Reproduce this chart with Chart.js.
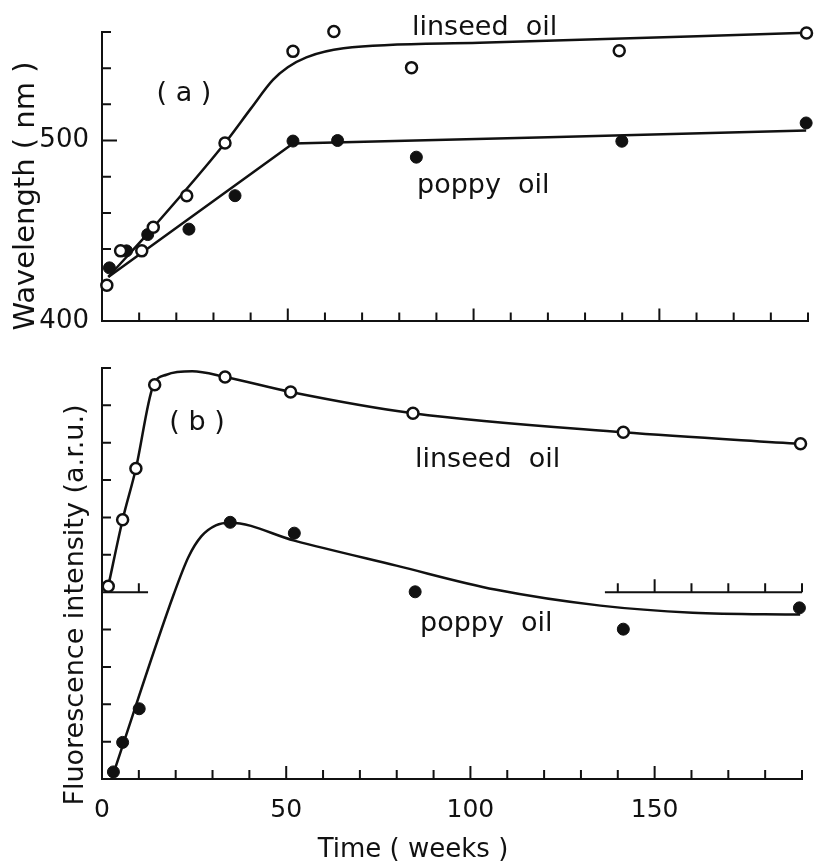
<!DOCTYPE html>
<html>
<head>
<meta charset="utf-8">
<script src="https://cdn.jsdelivr.net/npm/chart.js@4.4.1/dist/chart.umd.min.js"></script>
<style>
  html, body { margin: 0; padding: 0; background: #fff; }
  #wrap { position: relative; width: 818px; height: 868px; }
  .panel { position: absolute; left: 0; width: 818px; }
</style>
</head>
<body>
<div id="wrap">
  <div class="panel" style="top:0;height:350px"><canvas id="chart-a"></canvas></div>
  <div class="panel" style="top:350px;height:518px"><canvas id="chart-b"></canvas></div>
</div>
<script>
// Panel (a): wavelength vs time

const linseedWeeksA = [1.3, 5.0, 10.7, 13.8, 22.8, 33.1, 51.4, 62.4, 83.3, 139.2, 189.6];
const linseedWaveA = [420, 439, 439, 452, 469.5, 498.6, 549.3, 560.3, 540.3, 549.6, 559.4];
const poppyWeeksA = [2.0, 6.6, 12.3, 23.4, 35.8, 51.4, 63.4, 84.6, 139.9, 189.5];
const poppyWaveA = [429.6, 439, 448, 451, 469.5, 499.7, 500, 490.8, 499.6, 509.7];

// fitted curves as drawn in the figure
const linseedFitWeeksA = [1.7, 13.8, 33.1, 40, 46, 50, 55, 65, 101.6, 189.5];
const linseedFitWaveA = [424.6, 452, 498.6, 517.5, 533.5, 540.5, 546, 551, 554, 559.6];
const poppyFitWeeksA = [1.7, 51.4, 120, 189.5];
const poppyFitWaveA = [424.6, 498.4, 501.8, 505.5];

// Panel (b): fluorescence intensity vs time

const linseedWeeksB = [1.7, 5.6, 9.2, 14.3, 33.4, 51.2, 84.4, 141.5, 189.6];
const linseedFluorB = [5.16, 6.94, 8.31, 10.55, 10.76, 10.36, 9.79, 9.28, 8.97];
const poppyWeeksB = [3.1, 5.6, 10.1, 34.8, 52.2, 85.0, 141.5, 189.3];
const poppyFluorB = [0.19, 0.98, 1.88, 6.87, 6.58, 5.01, 4.01, 4.58];

const linseedFitWeeksB = [1.7, 5.6, 9.2, 13.8, 17.5, 24.5, 33.4, 51.2, 84.4, 141.5, 189.6];
const linseedFitFluorB = [5.16, 6.94, 8.31, 10.5, 10.82, 10.91, 10.76, 10.36, 9.79, 9.28, 8.97];
const poppyFitWeeksB = [2.7, 19.5, 23.5, 27, 30.9, 34.8, 52.2, 79.9, 106.7, 135.3, 160.3, 189.5];
const poppyFitFluorB = [0.03, 4.95, 5.95, 6.5, 6.79, 6.86, 6.38, 5.71, 5.07, 4.64, 4.45, 4.40];

// Axes
const weekRange = [0, 190];
const weekStep = 10;
const weekLabels = [0, 50, 100, 150];
const waveRange = [400, 560];
const waveStep = 20;
const waveLabels = [400, 500];
const fluorRange = [0, 11];
const fluorStep = 1;
// linseed curve in (b) sits on its own shifted baseline
const linseedBaseB = 5;
const linseedBaseSpans = [[0, 12.5], [136.5, 190]];


const ink = '#111';
Chart.defaults.font.family = '"DejaVu Sans", sans-serif';
Chart.defaults.color = ink;

function pts(xs, ys) {
    return xs.map((x, i) => ({ x: x, y: ys[i] }));
}

// tick marks pointing into the plot, plus the extra baseline segments
const inwardTicks = {
    id: 'inwardTicks',
    beforeDatasetsDraw(chart, args, opts) {
        const ctx = chart.ctx;
        const xs = chart.scales.x;
        const ys = chart.scales.y;
        const area = chart.chartArea;
        ctx.save();
        ctx.strokeStyle = ink;
        ctx.lineWidth = 2;
        ctx.beginPath();
        xs.ticks.forEach(t => {
            if (t.value === xs.min) return;
            const px = xs.getPixelForValue(t.value);
            const len = t.value % 50 === 0 ? 13 : 9;
            ctx.moveTo(px, area.bottom);
            ctx.lineTo(px, area.bottom - len);
        });
        ys.ticks.forEach(t => {
            if (t.value === ys.min) return;
            const py = ys.getPixelForValue(t.value);
            const len = opts.yMajor && t.value % opts.yMajor === 0 ? 15 : 9;
            ctx.moveTo(area.left, py);
            ctx.lineTo(area.left + len, py);
        });
        (opts.spans || []).forEach(span => {
            const py = ys.getPixelForValue(opts.base);
            ctx.moveTo(xs.getPixelForValue(span[0]), py);
            ctx.lineTo(xs.getPixelForValue(span[1]), py);
            xs.ticks.forEach(t => {
                if (t.value <= span[0] || t.value > span[1]) return;
                const px = xs.getPixelForValue(t.value);
                const len = t.value % 50 === 0 ? 13 : 9;
                ctx.moveTo(px, py);
                ctx.lineTo(px, py - len);
            });
        });
        ctx.stroke();
        ctx.restore();
    }
};

// free text: labels, panel letters, axis titles
const notes = {
    id: 'notes',
    afterDraw(chart, args, opts) {
        const ctx = chart.ctx;
        ctx.save();
        ctx.fillStyle = ink;
        (opts.items || []).forEach(n => {
            ctx.save();
            ctx.font = n.size + 'px "DejaVu Sans"';
            ctx.textAlign = n.align || 'left';
            ctx.textBaseline = n.baseline || 'alphabetic';
            ctx.translate(n.x, n.y);
            if (n.rotate) ctx.rotate(-Math.PI / 2);
            ctx.fillText(n.text, 0, 0);
            ctx.restore();
        });
        ctx.restore();
    }
};

function markerSet(label, data, filled) {
    return {
        label: label,
        data: data,
        showLine: false,
        pointStyle: 'circle',
        pointRadius: filled ? 6 : 5.5,
        pointBackgroundColor: filled ? ink : '#fff',
        pointBorderColor: ink,
        pointBorderWidth: filled ? 1 : 2.5,
        clip: false,
        order: 0,
    };
}

function curveSet(label, data, smooth) {
    return {
        label: label,
        data: data,
        showLine: true,
        borderColor: ink,
        borderWidth: 2.5,
        pointRadius: 0,
        cubicInterpolationMode: smooth ? 'monotone' : 'default',
        tension: 0,
        clip: false,
        order: 1,
    };
}

function xAxis(showLabels, height, pad) {
    return {
        type: 'linear',
        min: weekRange[0],
        max: weekRange[1],
        grid: { display: false, drawTicks: false },
        border: { display: true, color: ink, width: 2 },
        ticks: {
            display: showLabels,
            stepSize: weekStep,
            autoSkip: false,
            maxRotation: 0,
            padding: pad,
            font: { size: 25 },
            callback: v => weekLabels.includes(v) ? String(v) : '',
        },
        afterFit: scale => { scale.height = height; },
    };
}

// Chart (a)

const configA = {
    type: 'scatter',
    data: {
        datasets: [
            markerSet('linseed oil', pts(linseedWeeksA, linseedWaveA), false),
            markerSet('poppy oil', pts(poppyWeeksA, poppyWaveA), true),
            curveSet('linseed fit', pts(linseedFitWeeksA, linseedFitWaveA), true),
            curveSet('poppy fit', pts(poppyFitWeeksA, poppyFitWaveA), false),
        ]
    },
    options: {
        responsive: true,
        maintainAspectRatio: false,
        animation: false,
        layout: { padding: { left: 0, right: 10, top: 32, bottom: 0 } },
        scales: {
            x: xAxis(false, 17, 0),
            y: {
                type: 'linear',
                min: waveRange[0],
                max: waveRange[1],
                grid: { display: false, drawTicks: false },
                border: { display: true, color: ink, width: 2 },
                ticks: {
                    stepSize: waveStep,
                    autoSkip: false,
                    padding: 13,
                    font: { size: 26 },
                    callback: v => waveLabels.includes(v) ? String(v) : '',
                },
                afterFit: scale => { scale.width = 102; },
            }
        },
        plugins: {
            legend: { display: false },
            tooltip: { enabled: false },
            inwardTicks: { yMajor: 100 },
            notes: {
                items: [
                    { text: 'Wavelength ( nm )', x: 26, y: 196, size: 29, rotate: true, align: 'center', baseline: 'middle' },
                    { text: '( a )', x: 184, y: 94, size: 27, align: 'center', baseline: 'middle' },
                    { text: 'linseed  oil', x: 412, y: 35, size: 27 },
                    { text: 'poppy  oil', x: 417, y: 193, size: 27 },
                ]
            }
        }
    },
    plugins: [inwardTicks, notes]
};

const contextA = document.getElementById('chart-a').getContext('2d');
const chartA = new Chart(contextA, configA);

// Chart (b)

const configB = {
    type: 'scatter',
    data: {
        datasets: [
            markerSet('linseed oil', pts(linseedWeeksB, linseedFluorB), false),
            markerSet('poppy oil', pts(poppyWeeksB, poppyFluorB), true),
            curveSet('linseed fit', pts(linseedFitWeeksB, linseedFitFluorB), true),
            curveSet('poppy fit', pts(poppyFitWeeksB, poppyFitFluorB), true),
        ]
    },
    options: {
        responsive: true,
        maintainAspectRatio: false,
        animation: false,
        layout: { padding: { left: 0, right: 10, top: 18, bottom: 0 } },
        scales: {
            x: xAxis(true, 89, 16),
            y: {
                type: 'linear',
                min: fluorRange[0],
                max: fluorRange[1],
                grid: { display: false, drawTicks: false },
                border: { display: true, color: ink, width: 2 },
                ticks: {
                    stepSize: fluorStep,
                    autoSkip: false,
                    callback: () => '',
                },
                afterFit: scale => { scale.width = 102; },
            }
        },
        plugins: {
            legend: { display: false },
            tooltip: { enabled: false },
            inwardTicks: { base: linseedBaseB, spans: linseedBaseSpans },
            notes: {
                items: [
                    { text: 'Fluorescence intensity (a.r.u.)', x: 76, y: 255, size: 27, rotate: true, align: 'center', baseline: 'middle' },
                    { text: '( b )', x: 197, y: 73, size: 27, align: 'center', baseline: 'middle' },
                    { text: 'linseed  oil', x: 415, y: 117, size: 27 },
                    { text: 'poppy  oil', x: 420, y: 281, size: 27 },
                    { text: 'Time ( weeks )', x: 413, y: 500, size: 26, align: 'center', baseline: 'middle' },
                ]
            }
        }
    },
    plugins: [inwardTicks, notes]
};

const contextB = document.getElementById('chart-b').getContext('2d');
const chartB = new Chart(contextB, configB);
</script>
</body>
</html>
